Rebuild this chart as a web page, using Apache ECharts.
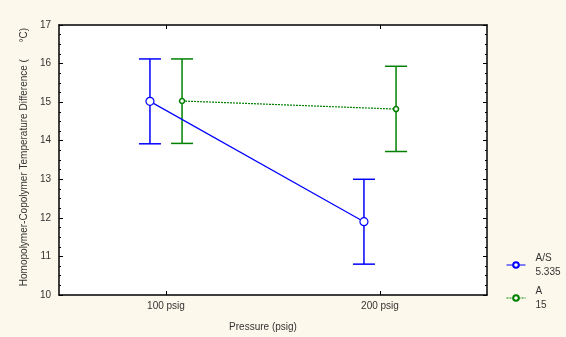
<!DOCTYPE html>
<html>
<head>
<meta charset="utf-8">
<script src="https://cdn.jsdelivr.net/npm/echarts@6/dist/echarts.min.js"></script>
<style>
  html, body { margin: 0; padding: 0; background: #fdf8ec; }
  #chart { width: 566px; height: 337px; }
</style>
</head>
<body>
<div id="chart"></div>
<script>
// Pressure levels on the x axis
const categories = ['100 psig', '200 psig'];

// A/S group (5.335): means with lower / upper error limits
const asName = 'A/S';
const asLabel = '5.335';
const asMeans = [15.02, 11.90];
const asLow = [13.92, 10.80];
const asHigh = [16.12, 13.00];

// A group (15): means with lower / upper error limits
const aName = 'A';
const aLabel = '15';
const aMeans = [15.03, 14.82];
const aLow = [13.93, 13.72];
const aHigh = [16.12, 15.93];

// y axis range and tick step
const yMin = 10, yMax = 17, yStep = 1;

const BLUE = '#0000ff';
const GREEN = '#008000';
const FONT = 'Liberation Sans, Arial, sans-serif';
// horizontal shift of each group away from the category centre (in category units)
const SHIFT = 0.075;
const CAP = 11;

function pts(means, shift) {
  return means.map((v, i) => [i + 0.5 + shift, v]);
}
function bars(low, high, shift) {
  return low.map((v, i) => [i + 0.5 + shift, v, high[i]]);
}

function errorBar(color) {
  return function (params, api) {
    const x = api.value(0);
    const lo = api.coord([x, api.value(1)]);
    const hi = api.coord([x, api.value(2)]);
    const st = { stroke: color, lineWidth: 1.5 };
    return {
      type: 'group',
      children: [
        { type: 'line', shape: { x1: lo[0], y1: lo[1], x2: hi[0], y2: hi[1] }, style: st },
        { type: 'line', shape: { x1: lo[0] - CAP, y1: lo[1], x2: lo[0] + CAP, y2: lo[1] }, style: st },
        { type: 'line', shape: { x1: hi[0] - CAP, y1: hi[1], x2: hi[0] + CAP, y2: hi[1] }, style: st }
      ]
    };
  };
}

const legendText = { [asName]: asName + '\n' + asLabel, [aName]: aName + '\n' + aLabel };

const yAxisBase = {
  type: 'value', min: yMin, max: yMax, interval: yStep,
  splitLine: { show: false },
  axisLine: { show: true, lineStyle: { color: '#000', width: 1.5 } },
  axisTick: { show: true, inside: true, length: 4, lineStyle: { color: '#000' } },
  minorTick: { show: true, splitNumber: 4, length: 2, lineStyle: { color: '#000' } }
};
const xCatBase = {
  type: 'category', data: categories, boundaryGap: true,
  axisLine: { show: true, onZero: false, lineStyle: { color: '#000', width: 1.5 } },
  axisTick: { show: true, inside: true, alignWithLabel: true, length: 4, lineStyle: { color: '#000' } },
  splitLine: { show: false }
};

const option = {
  backgroundColor: '#fdf8ec',
  animation: false,
  textStyle: { fontFamily: FONT },
  grid: {
    left: 59, top: 25, right: 79, bottom: 42,
    show: true, backgroundColor: '#ffffff', borderWidth: 0
  },
  legend: {
    orient: 'vertical',
    left: 506, top: 244, padding: 0,
    itemWidth: 19, itemHeight: 7, itemGap: -9,
    data: [asName, aName],
    formatter: n => legendText[n],
    lineStyle: { width: 1 },
    textStyle: {
      fontFamily: FONT, fontSize: 10, color: '#333',
      lineHeight: 14, padding: [14, 0, 0, 5]
    }
  },
  xAxis: [
    Object.assign({}, xCatBase, {
      position: 'bottom',
      name: 'Pressure (psig)', nameLocation: 'middle', nameGap: 27,
      nameTextStyle: { fontFamily: FONT, fontSize: 10, color: '#333', padding: [0, 20, 0, 0] },
      axisLabel: { margin: 6, fontFamily: FONT, fontSize: 10, color: '#333' }
    }),
    Object.assign({}, xCatBase, { position: 'top', axisLabel: { show: false } }),
    { type: 'value', min: 0, max: 2, show: false }
  ],
  yAxis: [
    Object.assign({}, yAxisBase, {
      position: 'left',
      name: 'Homopolymer-Copolymer Temperature Difference (      °C)',
      nameLocation: 'middle', nameGap: 28, nameRotate: 90,
      nameTextStyle: { fontFamily: FONT, fontSize: 10, color: '#333', padding: [0, 0, 0, 6] },
      axisLabel: { margin: 8, fontFamily: FONT, fontSize: 10, color: '#333' }
    }),
    Object.assign({}, yAxisBase, { position: 'right', axisLabel: { show: false } })
  ],
  series: [
    {
      name: asName, type: 'line', xAxisIndex: 2, yAxisIndex: 0,
      data: pts(asMeans, -SHIFT),
      symbol: 'circle', symbolSize: 8,
      itemStyle: { color: '#ffffff', borderColor: BLUE, borderWidth: 1.2 },
      lineStyle: { color: BLUE, width: 1.2 },
      z: 3
    },
    {
      name: aName, type: 'line', xAxisIndex: 2, yAxisIndex: 0,
      data: pts(aMeans, SHIFT),
      symbol: 'circle', symbolSize: 5,
      itemStyle: { color: '#ffffff', borderColor: GREEN, borderWidth: 1.5 },
      lineStyle: { color: GREEN, width: 1.2, type: [2, 1] },
      z: 3
    },
    {
      type: 'custom', xAxisIndex: 2, yAxisIndex: 0,
      data: bars(asLow, asHigh, -SHIFT),
      renderItem: errorBar(BLUE), z: 2, silent: true
    },
    {
      type: 'custom', xAxisIndex: 2, yAxisIndex: 0,
      data: bars(aLow, aHigh, SHIFT),
      renderItem: errorBar(GREEN), z: 2, silent: true
    }
  ]
};

echarts.init(document.getElementById('chart')).setOption(option);
</script>
</body>
</html>
